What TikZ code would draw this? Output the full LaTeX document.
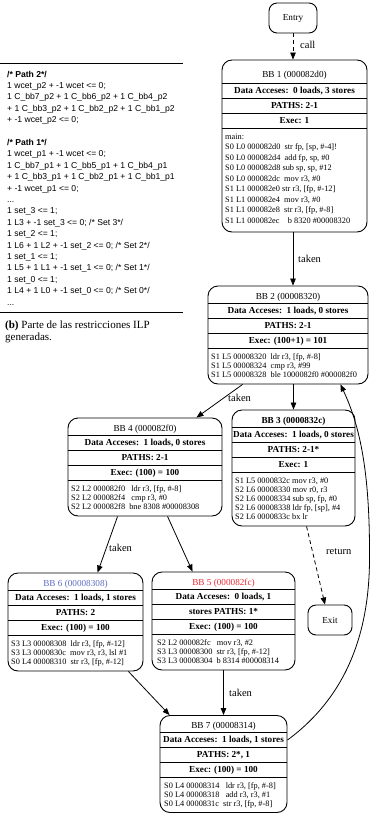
\documentclass[tikz,border=0pt]{standalone}
\usepackage{fontspec}
\setmainfont{Liberation Serif}
\newfontfamily\arialfont{Liberation Sans}
\usetikzlibrary{arrows.meta}
\definecolor{bbblue}{RGB}{95,110,195}
\definecolor{bbred}{RGB}{232,45,55}
\begin{document}
\begin{tikzpicture}[x=1pt,y=-1pt,
  bbf/.style={draw, rounded corners=10pt, line width=0.9pt, inner sep=0pt},
  endbox/.style={draw, rounded corners=8pt, line width=0.9pt, inner sep=0pt, font=\fontsize{9.2}{10}\selectfont},
  rowline/.style={line width=0.8pt},
  ttl/.style={font=\fontsize{9.2}{10}\selectfont, anchor=base, inner sep=0pt},
  bld/.style={font=\fontsize{9.2}{10}\selectfont\bfseries, anchor=base, inner sep=0pt},
  cde/.style={font=\fontsize{8.3}{9}\selectfont, anchor=base west, inner sep=0pt},
  lbl/.style={font=\fontsize{10.5}{12}\selectfont, anchor=west, inner sep=0pt},
  edge/.style={line width=0.8pt, -{Triangle[length=7pt,width=5.5pt]}},
  dedge/.style={edge, dash pattern=on 4pt off 3pt},
  lp/.style={font=\arialfont\fontsize{8.6}{10}\selectfont, anchor=base west, inner sep=0pt},
  lpb/.style={lp, font=\arialfont\bfseries\fontsize{8.6}{10}\selectfont},
  capt/.style={font=\fontsize{11}{13}\selectfont, anchor=base west, inner sep=0pt}
]
\useasboundingbox (0,0) rectangle (370,814);

% ---------------- left panel ----------------
\draw[line width=1pt] (0,63) -- (183,63);
\node[lpb] (l0) at (7,77) {/* Path 2*/};
\node[lp] (l1) at (7,88.4) {1 wcet\_p2 + -1 wcet <= 0;};
\node[lp] (l2) at (7,99.8) {1 C\_bb7\_p2 + 1 C\_bb6\_p2 + 1 C\_bb4\_p2};
\node[lp] (l3) at (7,111.2) {+ 1 C\_bb3\_p2 + 1 C\_bb2\_p2 + 1 C\_bb1\_p2};
\node[lp] (l4) at (7,122.6) {+ -1 wcet\_p2 <= 0;};
\node[lpb] (l6) at (7,145.4) {/* Path 1*/};
\node[lp] (l7) at (7,156.8) {1 wcet\_p1 + -1 wcet <= 0;};
\node[lp] (l8) at (7,168.2) {1 C\_bb7\_p1 + 1 C\_bb5\_p1 + 1 C\_bb4\_p1};
\node[lp] (l9) at (7,179.6) {+ 1 C\_bb3\_p1 + 1 C\_bb2\_p1 + 1 C\_bb1\_p1};
\node[lp] (l10) at (7,191) {+ -1 wcet\_p1 <= 0;};
\node[lp] (l11) at (7,202.4) {...};
\node[lp] (l12) at (7,213.8) {1 set\_3 <= 1;};
\node[lp] (l13) at (7,225.2) {1 L3 + -1 set\_3 <= 0; /* Set 3*/};
\node[lp] (l14) at (7,236.6) {1 set\_2 <= 1;};
\node[lp] (l15) at (7,248) {1 L6 + 1 L2 + -1 set\_2 <= 0; /* Set 2*/};
\node[lp] (l16) at (7,259.4) {1 set\_1 <= 1;};
\node[lp] (l17) at (7,270.8) {1 L5 + 1 L1 + -1 set\_1 <= 0; /* Set 1*/};
\node[lp] (l18) at (7,282.2) {1 set\_0 <= 1;};
\node[lp] (l19) at (7,293.6) {1 L4 + 1 L0 + -1 set\_0 <= 0; /* Set 0*/};
\node[lp] (l20) at (7,305) {...};
\draw[line width=1pt] (0,312) -- (183,312);
\node[capt] (cap1) at (5,328) {\textbf{(b)} Parte de las restricciones ILP};
\node[capt] (cap2) at (5,340) {generadas.};

% ---------------- Entry / Exit ----------------
\node[endbox, minimum width=48pt, minimum height=30pt] (entry) at (293,18) {Entry};
\node[endbox, minimum width=44pt, minimum height=30pt] (exit) at (330,620) {Exit};

% ---------------- BB 1 ----------------
\node[bbf, minimum width=145pt, minimum height=172pt] (b1) at (294.5,146) {};
\foreach \y in {83,98,113,128} \draw[rowline] (222,\y) -- (367,\y);
\node[ttl] (b1h) at (294.5,77) {BB 1 (000082d0)};
\node[bld] (b1d) at (294.5,93.5) {Data Acceses:~~0 loads, 3 stores};
\node[bld] (b1p) at (294.5,108.5) {PATHS: 2-1};
\node[bld] (b1e) at (294.5,123.5) {Exec: 1};
\foreach \t [count=\i from 0] in {{main:},
  {S0 L0 000082d0~~str fp, [sp, \#-4]!},
  {S0 L0 000082d4~~add fp, sp, \#0},
  {S0 L0 000082d8 sub sp, sp, \#12},
  {S0 L0 000082dc~~mov r3, \#0},
  {S1 L1 000082e0 str r3, [fp, \#-12]},
  {S1 L1 000082e4~~mov r3, \#0},
  {S1 L1 000082e8~~str r3, [fp, \#-8]},
  {S1 L1 000082ec~~~~b 8320 \#00008320}}
  \node[cde] (b1c\i) at (225,{139+10.5*\i}) {\t};

% ---------------- BB 2 ----------------
\node[bbf, minimum width=160pt, minimum height=98pt] (b2) at (288,335) {};
\foreach \y in {303,318,333,348} \draw[rowline] (208,\y) -- (368,\y);
\node[ttl] (b2h) at (288,299) {BB 2 (00008320)};
\node[bld] (b2d) at (288,313.5) {Data Acceses:~~1 loads, 0 stores};
\node[bld] (b2p) at (288,328.5) {PATHS: 2-1};
\node[bld] (b2e) at (288,343.5) {Exec: (100+1) = 101};
\foreach \t [count=\i from 0] in {
  {S1 L5 00008320~~ldr r3, [fp, \#-8]},
  {S1 L5 00008324~~cmp r3, \#99},
  {S1 L5 00008328~~ble 1000082f0 \#000082f0}}
  \node[cde] (b2c\i) at (211,{359+9*\i}) {\t};

% ---------------- BB 3 ----------------
\node[bbf, minimum width=123pt, minimum height=116pt] (b3) at (293.5,468) {};
\foreach \y in {427,442,457,472} \draw[rowline] (232,\y) -- (355,\y);
\node[bld] (b3h) at (293.5,423) {BB 3 (0000832c)};
\node[bld] (b3d) at (293.5,437.5) {Data Acceses:~~1 loads, 0 stores};
\node[bld] (b3p) at (293.5,452.5) {PATHS: 2-1*};
\node[bld] (b3e) at (293.5,467.5) {Exec: 1};
\foreach \t [count=\i from 0] in {
  {S1 L5 0000832c mov r3, \#0},
  {S2 L6 00008330 mov r0, r3},
  {S2 L6 00008334 sub sp, fp, \#0},
  {S2 L6 00008338 ldr fp, [sp], \#4},
  {S2 L6 0000833c bx lr}}
  \node[cde] (b3c\i) at (235,{483+9*\i}) {\t};

% ---------------- BB 4 ----------------
\node[bbf, minimum width=154pt, minimum height=98pt] (b4) at (145,467) {};
\foreach \y in {435,450,465,480} \draw[rowline] (68,\y) -- (222,\y);
\node[ttl] (b4h) at (145,431) {BB 4 (000082f0)};
\node[bld] (b4d) at (145,445.5) {Data Acceses:~~1 loads, 0 stores};
\node[bld] (b4p) at (145,460.5) {PATHS: 2-1};
\node[bld] (b4e) at (145,475.5) {Exec: (100) = 100};
\foreach \t [count=\i from 0] in {
  {S2 L2 000082f0~~~ldr r3, [fp, \#-8]},
  {S2 L2 000082f4~~~cmp r3, \#0},
  {S2 L2 000082f8~~bne 8308 \#00008308}}
  \node[cde] (b4c\i) at (71,{491+9*\i}) {\t};

% ---------------- BB 6 ----------------
\node[bbf, minimum width=135pt, minimum height=98pt] (b6) at (75.5,622) {};
\foreach \y in {590,605,620,635} \draw[rowline] (8,\y) -- (143,\y);
\node[ttl, text=bbblue] (b6h) at (75.5,586) {BB 6 (00008308)};
\node[bld] (b6d) at (75.5,600.5) {Data Acceses:~~1 loads, 1 stores};
\node[bld] (b6p) at (75.5,615.5) {PATHS: 2};
\node[bld] (b6e) at (75.5,630.5) {Exec: (100) = 100};
\foreach \t [count=\i from 0] in {
  {S3 L3 00008308~~ldr r3, [fp, \#-12]},
  {S3 L3 0000830c~~mov r3, r3, lsl \#1},
  {S0 L4 00008310~~str r3, [fp, \#-12]}}
  \node[cde] (b6c\i) at (11,{646+9*\i}) {\t};

% ---------------- BB 5 ----------------
\node[bbf, minimum width=143pt, minimum height=98pt] (b5) at (223.5,621) {};
\foreach \y in {589,604,619,634} \draw[rowline] (152,\y) -- (295,\y);
\node[ttl, text=bbred] (b5h) at (223.5,585) {BB 5 (000082fc)};
\node[bld] (b5d) at (223.5,599.5) {Data Acceses:~~0 loads, 1};
\node[bld] (b5p) at (223.5,614.5) {stores PATHS: 1*};
\node[bld] (b5e) at (223.5,629.5) {Exec: (100) = 100};
\foreach \t [count=\i from 0] in {
  {S2 L2 000082fc~~~mov r3, \#2},
  {S3 L3 00008300~~str r3, [fp, \#-12]},
  {S3 L3 00008304~~b 8314 \#00008314}}
  \node[cde] (b5c\i) at (157,{645+9*\i}) {\t};

% ---------------- BB 7 ----------------
\node[bbf, minimum width=127pt, minimum height=97pt] (b7) at (223.5,764) {};
\foreach \y in {732,747,762,777} \draw[rowline] (160,\y) -- (287,\y);
\node[ttl] (b7h) at (223.5,728) {BB 7 (00008314)};
\node[bld] (b7d) at (223.5,742.5) {Data Acceses:~~1 loads, 1 stores};
\node[bld] (b7p) at (223.5,757.5) {PATHS: 2*, 1};
\node[bld] (b7e) at (223.5,772.5) {Exec: (100) = 100};
\foreach \t [count=\i from 0] in {
  {S0 L4 00008314~~~ldr r3, [fp, \#-8]},
  {S0 L4 00008318~~~add r3, r3, \#1},
  {S0 L4 0000831c~~str r3, [fp, \#-8]}}
  \node[cde] (b7c\i) at (164,{788+9*\i}) {\t};

% ---------------- edges ----------------
\draw[dedge] (entry.south) -- (entry.south |- b1.north);
\node[lbl] (lcall) at (300,45) {call};

\draw[edge] (b1.south -| entry.south) -- (entry.south |- b2.north);
\node[lbl] (lt1) at (298,259) {taken};

\draw[edge] (b3.north |- b2.south) -- (b3.north);

\draw[edge] ([xshift=35pt]b2.south west) -- ([xshift=-26pt]b4.north east);
\node[lbl] (lt2) at (228,398) {taken};

\draw[edge] ([xshift=50pt]b4.south west) -- ([xshift=90pt]b6.north west);
\node[lbl] (lt3) at (109,548) {taken};

\draw[edge] ([xshift=100pt]b4.south west) -- ([xshift=41pt]b5.north west);

\draw[edge] (b5.south) -- (b5.south |- b7.north);
\node[lbl] (lt4) at (229,693) {taken};

\draw[edge] ([xshift=-15pt]b6.south east) -- ([xshift=10pt]b7.north west);

\draw[dedge] ([xshift=75pt]b3.south west) -- ([xshift=-5pt]exit.north);
\node[lbl] (lret) at (326,552) {return};

\draw[edge] ([yshift=-25pt]b7.north east) .. controls (335,705) and (369,650) .. (369.5,560)
  .. controls (370,480) and (362,430) .. ([xshift=-28pt]b2.south east);
\end{tikzpicture}
\end{document}
